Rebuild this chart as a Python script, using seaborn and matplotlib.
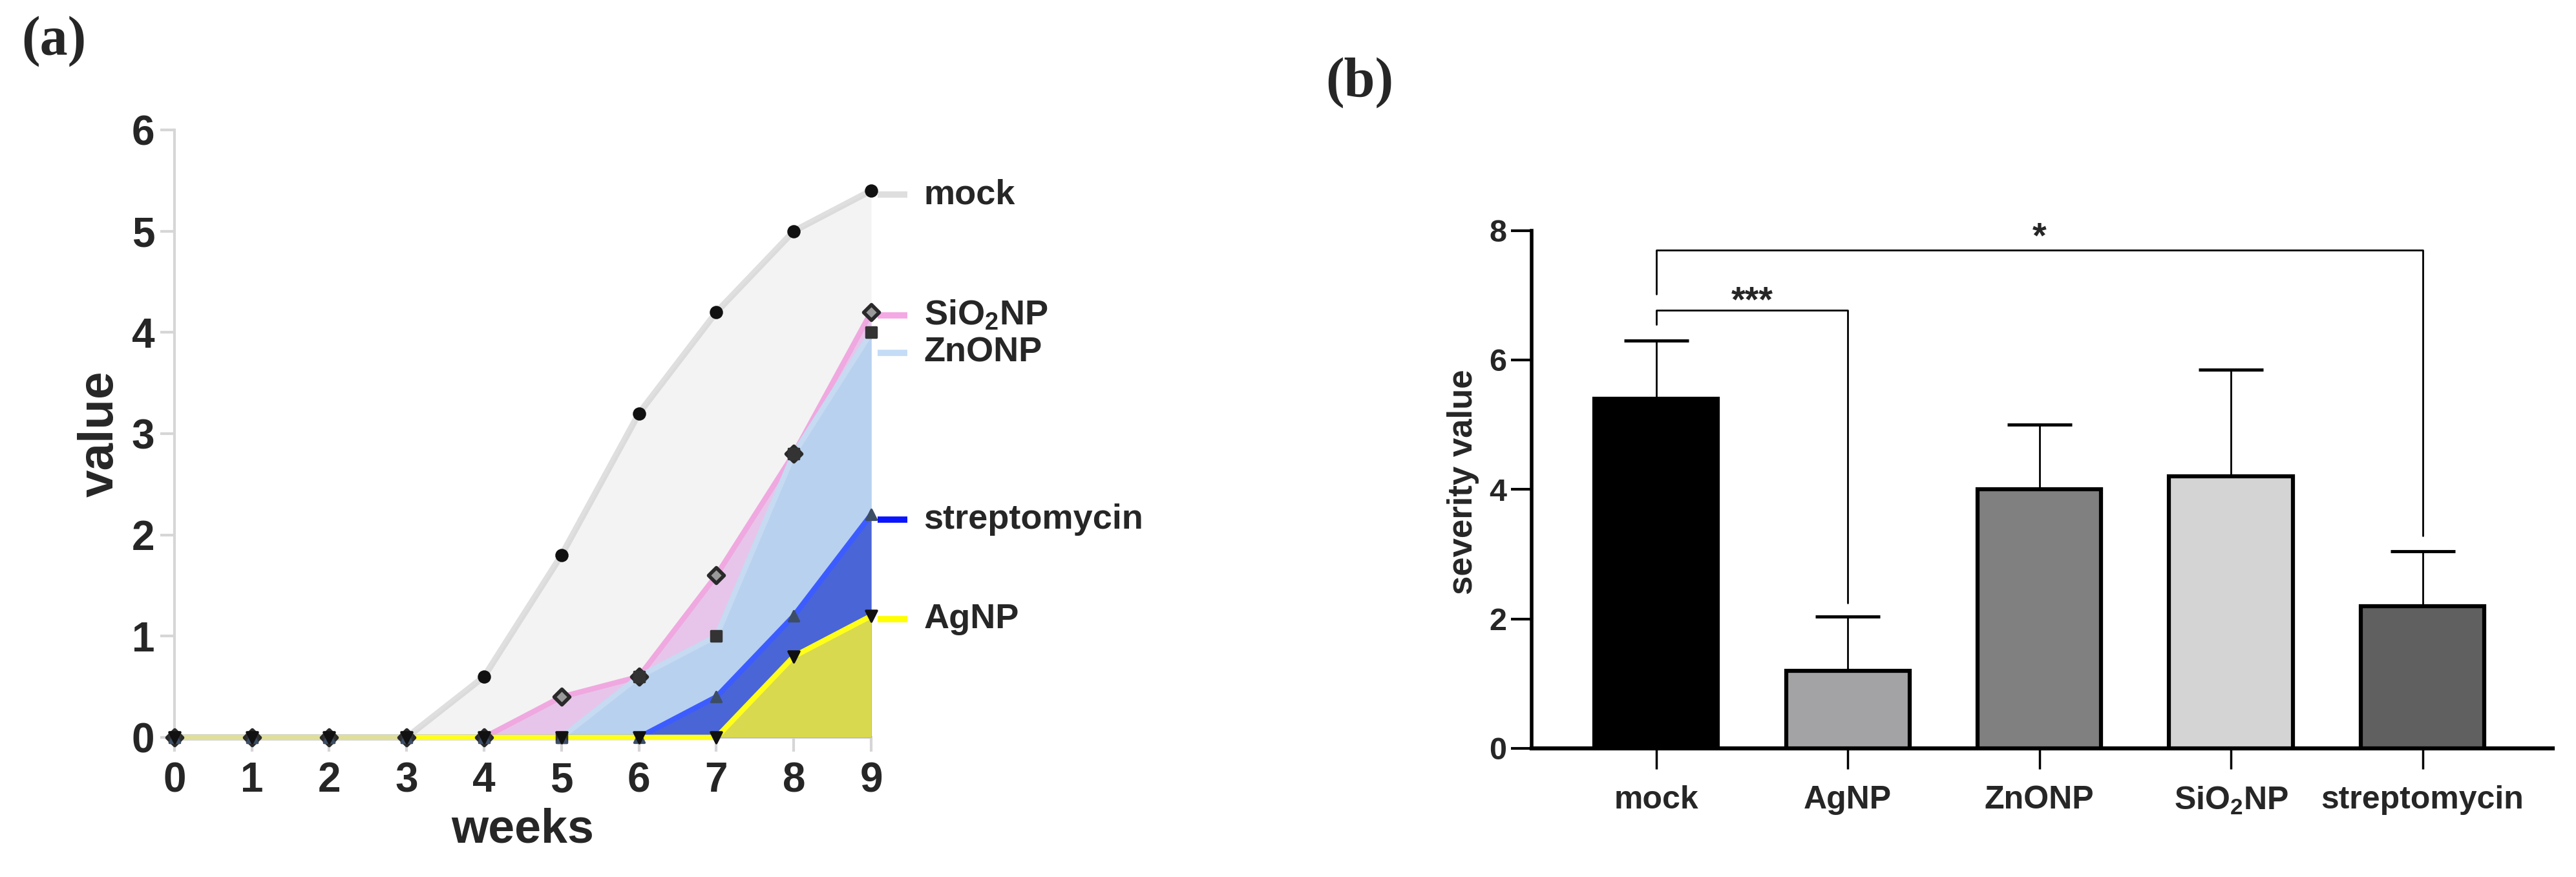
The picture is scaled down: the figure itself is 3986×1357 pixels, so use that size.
import numpy as np
import pandas as pd
import matplotlib
matplotlib.use("Agg")
import matplotlib.pyplot as plt
import seaborn as sns

# ---------------- data ----------------
weeks = [0, 1, 2, 3, 4, 5, 6, 7, 8, 9]
mock = [0, 0, 0, 0, 0.6, 1.8, 3.2, 4.2, 5.0, 5.4]
sio2np = [0, 0, 0, 0, 0, 0.4, 0.6, 1.6, 2.8, 4.2]
znonp = [0, 0, 0, 0, 0, 0, 0.6, 1.0, 2.8, 4.0]
streptomycin = [0, 0, 0, 0, 0, 0, 0, 0.4, 1.2, 2.2]
agnp = [0, 0, 0, 0, 0, 0, 0, 0, 0.8, 1.2]
series_labels = ["mock", "SiO$_2$NP", "ZnONP", "streptomycin", "AgNP"]
label_levels = [5.36, 4.17, 3.80, 2.15, 1.17]

groups = ["mock", "AgNP", "ZnONP", "SiO$_2$NP", "streptomycin"]
severity = [5.4, 1.2, 4.0, 4.2, 2.2]
severity_upper = [6.3, 2.04, 5.0, 5.85, 3.04]

# ---------------- style ----------------
sns.set_theme(style="white")
plt.rcParams["font.family"] = ["Liberation Sans", "DejaVu Sans"]
plt.rcParams["font.weight"] = "bold"
plt.rcParams["mathtext.default"] = "regular"

fig = plt.figure(figsize=(39.86, 13.57), dpi=100)

# ================= panel (a) =================
ax1 = fig.add_axes([0.0677, 0.1592, 0.2705, 0.6927])
series = [mock, sio2np, znonp, streptomycin, agnp]
fill_cols = ["#f3f3f3", "#e7c5ea", "#b8d1ef", "#4a65d5", "#d9d94f"]
line_cols = ["#d2d2d2", "#f0a8e0", "#c6daf2", "#3d5cff", "#ffff1a"]
seg_cols = ["#dedede", "#f4a8e4", "#c4dcf6", "#0a14ff", "#ffff00"]
markers = ["o", "D", "s", "^", "v"]
mcols = ["#111111", "#2a2a2a", "#333333", "#3c4e66", "#111111"]

for i, ys in enumerate(series):
    ax1.fill_between(weeks, ys, color=fill_cols[i], lw=0, zorder=1 + i)
    if i > 0:
        sns.lineplot(x=weeks, y=ys, ax=ax1, color=line_cols[i], lw=6,
                     zorder=1.5 + i, estimator=None, sort=False, legend=False)
# mock line on top (semi transparent -> khaki baseline over yellow)
sns.lineplot(x=weeks, y=mock, ax=ax1, color=line_cols[0], lw=7, alpha=0.7,
             zorder=7, estimator=None, sort=False, legend=False)

for i, ys in enumerate(series):
    fc = "#9a9a9a" if markers[i] == "D" else mcols[i]
    lw = 4 if markers[i] == "D" else 2.5
    sz = {"o": 150, "D": 150, "s": 120, "^": 130, "v": 150}[markers[i]]
    sns.scatterplot(x=weeks, y=ys, ax=ax1, marker=markers[i], s=sz,
                    color=fc, edgecolor=mcols[i], linewidth=lw,
                    zorder=10 + i, legend=False)
for c in ax1.collections:
    c.set_clip_on(False)
for l in ax1.lines:
    l.set_clip_on(False)

# right-side labels
for i, lab in enumerate(series_labels):
    ax1.plot([9.08, 9.47], [label_levels[i]] * 2, color=seg_cols[i], lw=7,
             clip_on=False, solid_capstyle="butt")
    ax1.text(9.68, label_levels[i], lab, fontsize=39, fontweight="bold",
             va="center", ha="left", clip_on=False)

ax1.set_xlim(0, 9)
ax1.set_ylim(0, 6)
ax1.set_xticks(range(10))
ax1.set_yticks(range(7))
for s in ["top", "right"]:
    ax1.spines[s].set_visible(False)
for s in ["left", "bottom"]:
    ax1.spines[s].set_color("#d6d6d6")
    ax1.spines[s].set_linewidth(3)
    ax1.spines[s].set_zorder(0.5)
ax1.tick_params(axis="x", length=16, width=3, color="#d6d6d6", pad=11,
                labelsize=46, direction="out", bottom=True)
ax1.tick_params(axis="y", length=16, width=3, color="#d6d6d6", pad=6,
                labelsize=46, direction="out", left=True)
for t in ax1.get_xticklabels() + ax1.get_yticklabels():
    t.set_fontweight("bold")
ax1.set_xlabel("weeks", fontsize=53, fontweight="bold")
ax1.set_ylabel("value", fontsize=55, fontweight="bold")
ax1.xaxis.set_label_coords(0.5, -0.115)
ax1.yaxis.set_label_coords(-0.073, 0.5)
ax1.grid(False)

fig.text(0.0083, 0.982, "(a)", fontsize=62, fontweight="bold",
         family=["Liberation Serif", "DejaVu Serif"], va="top", ha="left")

# ================= panel (b) =================
ax2 = fig.add_axes([0.5946, 0.1467, 0.3964, 0.5905])
df = pd.DataFrame({"group": groups, "severity": severity})
bar_cols = ["#000000", "#a2a2a6", "#808080", "#d4d4d4", "#606060"]
sns.barplot(data=df, x="group", y="severity", hue="group", palette=bar_cols,
            order=groups, legend=False, ax=ax2, width=0.645,
            edgecolor="black", linewidth=4.5, zorder=3)
err = np.array(severity_upper) - np.array(severity)
ax2.errorbar(range(len(groups)), severity, yerr=[np.zeros(len(err)), err],
             fmt="none", ecolor="black", elinewidth=2, capsize=36,
             capthick=3.5, zorder=2)

ax2.set_xlim(-0.65, 4.68)
ax2.set_ylim(0, 8)
ax2.set_yticks([0, 2, 4, 6, 8])
for s in ["top", "right"]:
    ax2.spines[s].set_visible(False)
ax2.spines["left"].set_linewidth(4)
ax2.spines["bottom"].set_linewidth(4.5)
ax2.spines["left"].set_color("black")
ax2.spines["bottom"].set_color("black")
ax2.tick_params(axis="y", length=23, width=3, color="black", pad=5,
                labelsize=35, left=True, direction="out")
ax2.tick_params(axis="x", length=23, width=2.5, color="black", pad=18,
                labelsize=36, bottom=True, direction="out")
for t in ax2.get_xticklabels() + ax2.get_yticklabels():
    t.set_fontweight("bold")
ax2.set_xlabel("")
ax2.set_ylabel("severity value", fontsize=38, fontweight="bold")
ax2.yaxis.set_label_coords(-0.051, 0.515)
ax2.grid(False)

# significance brackets
ax2.plot([0, 0, 1, 1], [6.55, 6.77, 6.77, 2.25], color="black", lw=2,
         clip_on=False, zorder=5)
ax2.text(0.5, 6.64, "***", fontsize=40, fontweight="bold", ha="center",
         va="bottom", clip_on=False)
ax2.plot([0, 0, 4, 4], [7.02, 7.70, 7.70, 3.28], color="black", lw=2,
         clip_on=False, zorder=5)
ax2.text(2, 7.62, "*", fontsize=40, fontweight="bold", ha="center",
         va="bottom", clip_on=False)

fig.text(0.5146, 0.935, "(b)", fontsize=62, fontweight="bold",
         family=["Liberation Serif", "DejaVu Serif"], va="top", ha="left")

fig.savefig("out.png", dpi=100, facecolor="white")
